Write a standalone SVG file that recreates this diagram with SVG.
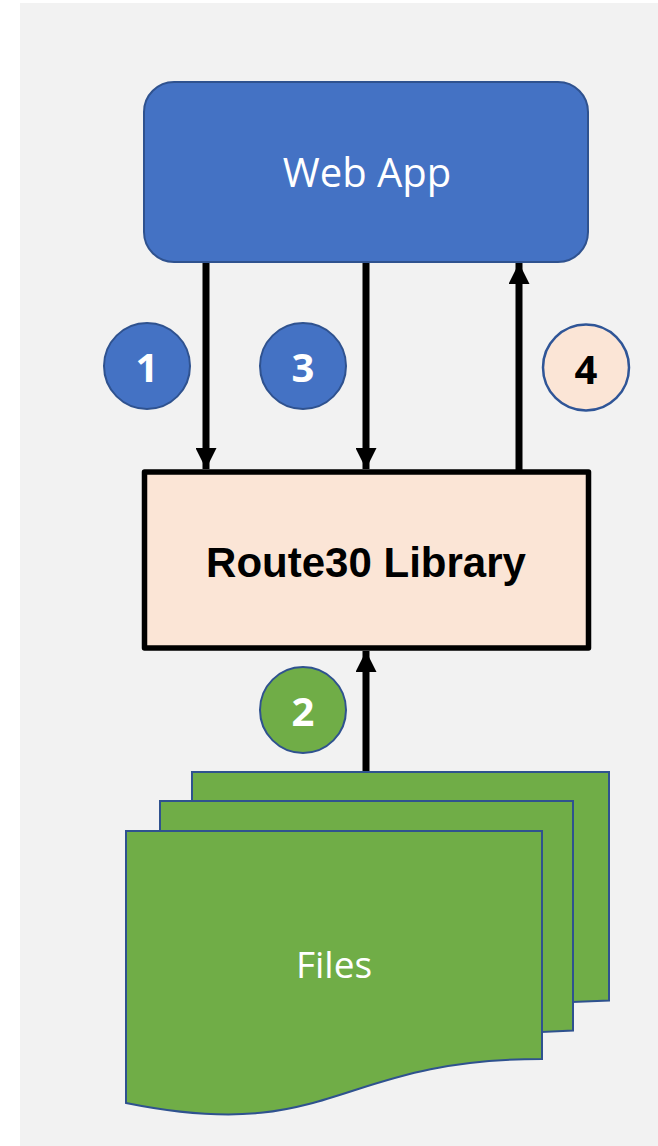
<svg xmlns="http://www.w3.org/2000/svg" width="658" height="1146" viewBox="0 0 658 1146">
  <style>
    .shape-edge { stroke: #2f528f; stroke-width: 2; }
    .blue { fill: #4472c4; }
    .peach { fill: #fbe5d6; }
    .green { fill: #70ad47; }
    .label { font-family: "Open Sans", "Liberation Sans", sans-serif; fill: #ffffff; text-anchor: middle; }
    .num { font-family: "Open Sans", "Liberation Sans", sans-serif; font-weight: 700; font-size: 40px; text-anchor: middle; }
    .flow { stroke: #000000; stroke-width: 7; fill: none; }
  </style>
  <defs>
    <marker id="head" viewBox="0 0 24 21" refX="21" refY="10.5" markerWidth="24" markerHeight="21" markerUnits="userSpaceOnUse" orient="auto">
      <path d="M0,0 L21,10.5 L0,21 Z" fill="#000000"/>
    </marker>
  </defs>

  <!-- canvas -->
  <rect x="20" y="3" width="638" height="1143" fill="#f2f2f2"/>

  <!-- connectors -->
  <g id="connectors">
    <line class="flow" x1="206" y1="262" x2="206" y2="469" marker-end="url(#head)"/>
    <line class="flow" x1="366" y1="262" x2="366" y2="469" marker-end="url(#head)"/>
    <line class="flow" x1="519" y1="470" x2="519" y2="263" marker-end="url(#head)"/>
    <line class="flow" x1="366" y1="772" x2="366" y2="651" marker-end="url(#head)"/>
  </g>

  <!-- application layer -->
  <g id="web-app">
    <rect class="blue shape-edge" x="144" y="82" width="444" height="180" rx="30" ry="30"/>
    <text class="label" x="367" y="187" font-size="40">Web App</text>
  </g>

  <!-- library -->
  <g id="route30-library">
    <rect class="peach" x="144.5" y="472" width="444" height="176" stroke="#000000" stroke-width="5.5" stroke-linejoin="round"/>
    <text x="366" y="577" font-family="Liberation Sans, Arial, sans-serif" font-weight="700" font-size="42" text-anchor="middle" fill="#000000">Route30 Library</text>
  </g>

  <!-- stacked documents -->
  <g id="files">
    <path class="green shape-edge" d="M192,772 H609 V1000.5 L573,1002 V801 H192 Z"/>
    <path class="green shape-edge" d="M160,801 H573 V1030.5 L542,1032 V831 H160 Z"/>
    <path class="green shape-edge" d="M126,831 H542 V1059 C334,1059 334,1145 126,1103 Z"/>
    <text class="label" x="334" y="978" font-size="37">Files</text>
  </g>

  <!-- step markers -->
  <g id="step-1">
    <circle class="blue shape-edge" cx="147" cy="366" r="43"/>
    <text class="num" x="147" y="382" fill="#ffffff">1</text>
  </g>
  <g id="step-2">
    <circle class="green shape-edge" cx="303" cy="710" r="43"/>
    <text class="num" x="303" y="726" fill="#ffffff">2</text>
  </g>
  <g id="step-3">
    <circle class="blue shape-edge" cx="303" cy="366" r="43"/>
    <text class="num" x="303" y="382" fill="#ffffff">3</text>
  </g>
  <g id="step-4">
    <circle class="peach" cx="586" cy="367.5" r="43" stroke="#2f5597" stroke-width="2.5"/>
    <text class="num" x="586" y="384" fill="#000000">4</text>
  </g>
</svg>
